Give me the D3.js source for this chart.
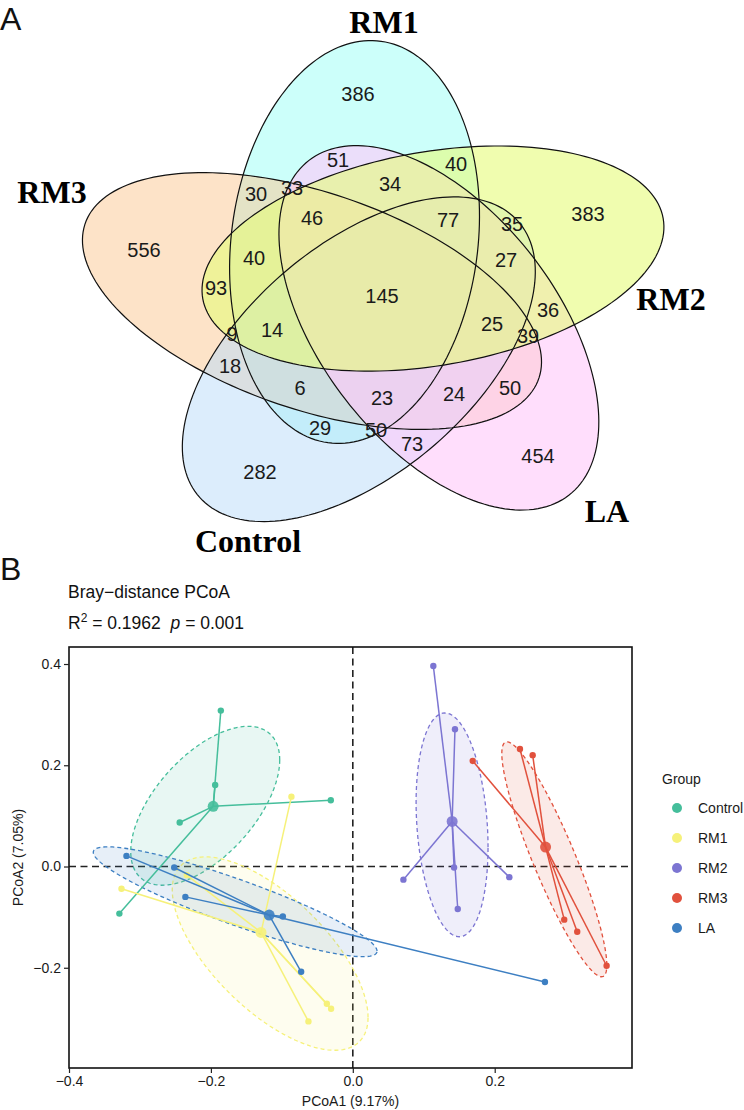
<!DOCTYPE html>
<html>
<head>
<meta charset="utf-8">
<script src="https://cdn.jsdelivr.net/npm/d3@7"></script>
<style>
  html, body { margin: 0; padding: 0; background: #fff; }
  svg { display: block; font-family: "Liberation Sans", Arial, sans-serif; }
</style>
</head>
<body>
<svg id="chart" width="744" height="1110"></svg>
<script>
// ---------- panel A data : five-set Venn ----------
var setNames = ["RM1", "RM2", "LA", "Control", "RM3"];
var regionSets = [
  ["RM1"], ["RM2"], ["LA"], ["Control"], ["RM3"],
  ["RM3", "RM1"], ["RM1", "RM2"], ["RM2", "LA"], ["LA", "Control"], ["Control", "RM3"],
  ["RM1", "LA"], ["RM2", "Control"], ["LA", "RM3"], ["Control", "RM1"], ["RM3", "RM2"],
  ["RM3", "RM1", "RM2"], ["RM1", "RM2", "LA"], ["RM2", "LA", "Control"], ["LA", "Control", "RM3"], ["Control", "RM3", "RM1"],
  ["RM3", "RM1", "LA"], ["RM1", "RM2", "Control"], ["RM2", "LA", "RM3"], ["LA", "Control", "RM1"], ["Control", "RM3", "RM2"],
  ["RM1", "RM2", "LA", "RM3"], ["RM1", "RM2", "LA", "Control"], ["RM2", "LA", "Control", "RM3"],
  ["LA", "Control", "RM3", "RM1"], ["Control", "RM3", "RM1", "RM2"],
  ["RM1", "RM2", "LA", "Control", "RM3"]
];
var regionCounts = [386, 383, 454, 282, 556,
  30, 40, 36, 73, 18,
  51, 35, 50, 29, 93,
  40, 34, 27, 24, 6,
  33, 11, 39, 50, 9,
  46, 77, 25, 23, 14,
  145];

// ---------- panel B data : PCoA ----------
var groups = ["Control", "RM1", "RM2", "RM3", "LA"];
var groupColors = ["#45be9b", "#f6f17a", "#7c75d2", "#e1513d", "#3d7fc2"];
var pc1Control = [-0.186, -0.194, -0.244, -0.031, -0.329];
var pc2Control = [0.308, 0.161, 0.087, 0.131, -0.093];
var pc1RM1 = [-0.326, -0.0865, -0.234, -0.0366, -0.0306, -0.0625];
var pc2RM1 = [-0.044, 0.138, -0.017, -0.271, -0.281, -0.306];
var pc1RM2 = [0.1135, 0.144, 0.1427, 0.0713, 0.2206, 0.1479];
var pc2RM2 = [0.396, 0.271, -0.002, -0.026, -0.021, -0.084];
var pc1RM3 = [0.169, 0.2356, 0.2535, 0.298, 0.3163, 0.3577];
var pc2RM3 = [0.2085, 0.232, 0.220, -0.105, -0.129, -0.196];
var pc1LA = [-0.319, -0.2517, -0.236, -0.0986, -0.0728, 0.2708];
var pc2LA = [0.021, -0.002, -0.060, -0.0986, -0.208, -0.228];
// group ellipses: centre, half width, half height, correlation (data units)
var ellCx = [-0.208, -0.1165, 0.1399, 0.284, -0.1658];
var ellCy = [0.120, -0.172, 0.0823, 0.0142, -0.0696];
var ellHx = [0.105, 0.138, 0.0507, 0.074, 0.200];
var ellHy = [0.157, 0.191, 0.221, 0.232, 0.1085];
var ellR = [0.576, -0.66, -0.2, -0.9, -0.9];
var xTicks = [-0.4, -0.2, 0.0, 0.2];
var yTicks = [-0.2, 0.0, 0.2, 0.4];

var svg = d3.select("#chart");
svg.append("rect").attr("width", 744).attr("height", 1110).attr("fill", "#fff");

// ================= panel A =================
var venn = { cx: 380.5, cy: 296.7, squash: 0.86, dist: 68.7, a: 235, b: 123.5, start: -112.2, tilt: 27.65 };
// small per-ellipse tweaks: extra semi-axis length, centre shift along the long axis
var vennAdjust = { RM1: [0, 0], RM2: [0, 0], LA: [0, 0], Control: [-8, 8], RM3: [9.4, 0] };
var vennFill = { RM1: "#99fff5", RM2: "#e6fc7a", LA: "#ffc8fa", Control: "#b9dbf9", RM3: "#fbc791" };
var vennAlpha = { RM1: 0.5, RM2: 0.6, LA: 0.6, Control: 0.5, RM3: 0.5 };
var vennDrawOrder = ["RM1", "RM3", "Control", "LA", "RM2"];

var vx = d3.scaleLinear().domain([0, 1]).range([venn.cx, venn.cx + 1]);
var vy = d3.scaleLinear().domain([0, 1]).range([venn.cy, venn.cy + venn.squash]);

var ell = {};
setNames.forEach(function (name, i) {
  var phi = (venn.start + 72 * i) * Math.PI / 180;
  var psi = phi + venn.tilt * Math.PI / 180;
  var adj = vennAdjust[name];
  ell[name] = {
    ecx: venn.dist * Math.cos(phi) + adj[1] * Math.cos(psi),
    ecy: venn.dist * Math.sin(phi) + adj[1] * Math.sin(psi),
    a: venn.a + adj[0],
    b: venn.b,
    psi: psi
  };
});

function ellipsePath(e) {
  var c = Math.cos(e.psi), s = Math.sin(e.psi);
  var pts = d3.range(0, 360, 2).map(function (deg) {
    var t = deg * Math.PI / 180;
    var p = e.a * Math.cos(t), q = e.b * Math.sin(t);
    return [vx(e.ecx + p * c - q * s), vy(e.ecy + p * s + q * c)];
  });
  return d3.line().curve(d3.curveLinearClosed)(pts);
}

// inside test and approximate distance (px) to the outline
function field(e, x, y) {
  var u = vx.invert(x) - e.ecx, v = vy.invert(y) - e.ecy;
  var c = Math.cos(e.psi), s = Math.sin(e.psi);
  var p = u * c + v * s, q = -u * s + v * c;
  var g = Math.sqrt(p * p / (e.a * e.a) + q * q / (e.b * e.b)) || 1e-9;
  var gp = p / (e.a * e.a * g), gq = q / (e.b * e.b * g);
  var gx = gp * c - gq * s, gy = (gp * s + gq * c) / venn.squash;
  return { inside: g < 1, dist: Math.abs(g - 1) / (Math.hypot(gx, gy) || 1e-9) };
}

var gA = svg.append("g");
vennDrawOrder.forEach(function (name) {
  gA.append("path").attr("d", ellipsePath(ell[name]))
    .attr("fill", vennFill[name]).attr("fill-opacity", vennAlpha[name]);
});
setNames.forEach(function (name) {
  gA.append("path").attr("d", ellipsePath(ell[name]))
    .attr("fill", "none").attr("stroke", "#111").attr("stroke-width", 1.2);
});

// label spot per region: far from the outlines, pulled toward the region centre
var cells = [], sums = {};
for (var y = 0; y < 560; y += 2) {
  for (var x = 0; x < 744; x += 2) {
    var mask = 0, dmin = Infinity;
    setNames.forEach(function (name, i) {
      var f = field(ell[name], x, y);
      if (f.inside) mask |= (1 << i);
      if (f.dist < dmin) dmin = f.dist;
    });
    if (!mask) continue;
    cells.push([x, y, mask, dmin]);
    if (!sums[mask]) sums[mask] = [0, 0, 0];
    sums[mask][0] += x; sums[mask][1] += y; sums[mask][2] += 1;
  }
}
var best = {};
cells.forEach(function (c) {
  var sm = sums[c[2]];
  var score = c[3] - 0.8 * Math.hypot(c[0] - sm[0] / sm[2], c[1] - sm[1] / sm[2]);
  if (!best[c[2]] || score > best[c[2]].s) best[c[2]] = { x: c[0], y: c[1], s: score };
});

regionSets.forEach(function (sets, i) {
  var mask = 0;
  sets.forEach(function (n) { mask |= (1 << setNames.indexOf(n)); });
  var spot = best[mask];
  if (!spot) return;
  gA.append("text").attr("x", spot.x).attr("y", spot.y)
    .attr("text-anchor", "middle").attr("dominant-baseline", "central")
    .attr("font-size", 20).attr("fill", "#1a1a1a")
    .text(regionCounts[i]);
});

var setLabelAt = { RM1: [384, 33], RM2: [671, 310], LA: [607, 522], Control: [248, 552], RM3: [52, 203] };
setNames.forEach(function (name) {
  gA.append("text").attr("x", setLabelAt[name][0]).attr("y", setLabelAt[name][1])
    .attr("text-anchor", "middle")
    .attr("font-family", "'Liberation Serif', 'Times New Roman', serif")
    .attr("font-weight", "bold").attr("font-size", 32).attr("fill", "#000")
    .text(name);
});

svg.append("text").attr("x", 0).attr("y", 30).attr("font-size", 32).attr("fill", "#111").text("A");
svg.append("text").attr("x", 0).attr("y", 580).attr("font-size", 32).attr("fill", "#111").text("B");

// ================= panel B =================
var plot = { left: 69, right: 632, top: 647, bottom: 1068 };
var xs = d3.scaleLinear().domain([-0.4, 0.3935]).range([plot.left, plot.right]);
var ys = d3.scaleLinear().domain([-0.398, 0.4336]).range([plot.bottom, plot.top]);

svg.append("text").attr("x", 68).attr("y", 598).attr("font-size", 17.5).attr("fill", "#111")
  .text("Bray\u2212distance PCoA");
var sub = svg.append("text").attr("x", 68).attr("y", 629).attr("font-size", 17.5).attr("fill", "#111");
sub.append("tspan").text("R");
sub.append("tspan").attr("dy", -7).attr("font-size", 12).text("2");
sub.append("tspan").attr("dy", 7).text("\u00a0= 0.1962\u00a0\u00a0");
sub.append("tspan").attr("font-style", "italic").text("p");
sub.append("tspan").text("\u00a0= 0.001");

svg.append("clipPath").attr("id", "plotclip").append("rect")
  .attr("x", plot.left).attr("y", plot.top)
  .attr("width", plot.right - plot.left).attr("height", plot.bottom - plot.top);
var gB = svg.append("g").attr("clip-path", "url(#plotclip)");

gB.append("line").attr("x1", plot.left).attr("x2", plot.right).attr("y1", ys(0)).attr("y2", ys(0))
  .attr("stroke", "#222").attr("stroke-width", 1.6).attr("stroke-dasharray", "7,4.5");
gB.append("line").attr("y1", plot.top).attr("y2", plot.bottom).attr("x1", xs(0)).attr("x2", xs(0))
  .attr("stroke", "#222").attr("stroke-width", 1.6).attr("stroke-dasharray", "7,4.5");

var pc1 = [pc1Control, pc1RM1, pc1RM2, pc1RM3, pc1LA];
var pc2 = [pc2Control, pc2RM1, pc2RM2, pc2RM3, pc2LA];

groups.forEach(function (g, i) {
  var r = ellR[i], s = Math.sqrt(1 - r * r);
  var pts = d3.range(0, 360, 3).map(function (deg) {
    var t = deg * Math.PI / 180;
    return [xs(ellCx[i] + ellHx[i] * Math.cos(t)),
            ys(ellCy[i] + ellHy[i] * (r * Math.cos(t) + s * Math.sin(t)))];
  });
  gB.append("path").attr("d", d3.line().curve(d3.curveLinearClosed)(pts))
    .attr("fill", groupColors[i]).attr("fill-opacity", 0.12)
    .attr("stroke", groupColors[i]).attr("stroke-width", 1.3).attr("stroke-dasharray", "4,3");
});

groups.forEach(function (g, i) {
  var mx = d3.mean(pc1[i]), my = d3.mean(pc2[i]);
  var col = groupColors[i];
  pc1[i].forEach(function (v, j) {
    gB.append("line").attr("x1", xs(mx)).attr("y1", ys(my))
      .attr("x2", xs(v)).attr("y2", ys(pc2[i][j]))
      .attr("stroke", col).attr("stroke-width", 1.5);
  });
  pc1[i].forEach(function (v, j) {
    gB.append("circle").attr("cx", xs(v)).attr("cy", ys(pc2[i][j])).attr("r", 3.2).attr("fill", col);
  });
  gB.append("circle").attr("cx", xs(mx)).attr("cy", ys(my)).attr("r", 5.5)
    .attr("fill", col).attr("fill-opacity", 0.9);
});

svg.append("rect").attr("x", plot.left).attr("y", plot.top)
  .attr("width", plot.right - plot.left).attr("height", plot.bottom - plot.top)
  .attr("fill", "none").attr("stroke", "#111").attr("stroke-width", 1.6);

var fmt = d3.format(".1f");
var xAxis = svg.append("g").attr("transform", "translate(0," + plot.bottom + ")")
  .call(d3.axisBottom(xs).tickValues(xTicks).tickFormat(fmt).tickSize(5).tickPadding(3));
var yAxis = svg.append("g").attr("transform", "translate(" + plot.left + ",0)")
  .call(d3.axisLeft(ys).tickValues(yTicks).tickFormat(fmt).tickSize(5).tickPadding(3));
[xAxis, yAxis].forEach(function (ax) {
  ax.select(".domain").remove();
  ax.selectAll(".tick line").attr("stroke", "#222").attr("stroke-width", 1.2);
  ax.selectAll(".tick text").attr("font-size", 14).attr("fill", "#1a1a1a")
    .attr("font-family", "'Liberation Sans', Arial, sans-serif");
});

svg.append("text").attr("x", (plot.left + plot.right) / 2).attr("y", 1106)
  .attr("text-anchor", "middle").attr("font-size", 14).attr("fill", "#1a1a1a")
  .text("PCoA1 (9.17%)");
svg.append("text").attr("transform", "translate(23," + (plot.top + plot.bottom) / 2 + ") rotate(-90)")
  .attr("text-anchor", "middle").attr("font-size", 14).attr("fill", "#1a1a1a")
  .text("PCoA2 (7.05%)");

// legend
var leg = svg.append("g").attr("transform", "translate(662,784)");
leg.append("text").attr("x", 0).attr("y", 0).attr("font-size", 14).attr("fill", "#1a1a1a").text("Group");
groups.forEach(function (g, i) {
  var row = leg.append("g").attr("transform", "translate(0," + (24 + i * 30) + ")");
  row.append("circle").attr("cx", 15).attr("cy", 0).attr("r", 5).attr("fill", groupColors[i]);
  row.append("text").attr("x", 36).attr("y", 0).attr("dominant-baseline", "central")
    .attr("font-size", 14).attr("fill", "#1a1a1a").text(g);
});
</script>
</body>
</html>
